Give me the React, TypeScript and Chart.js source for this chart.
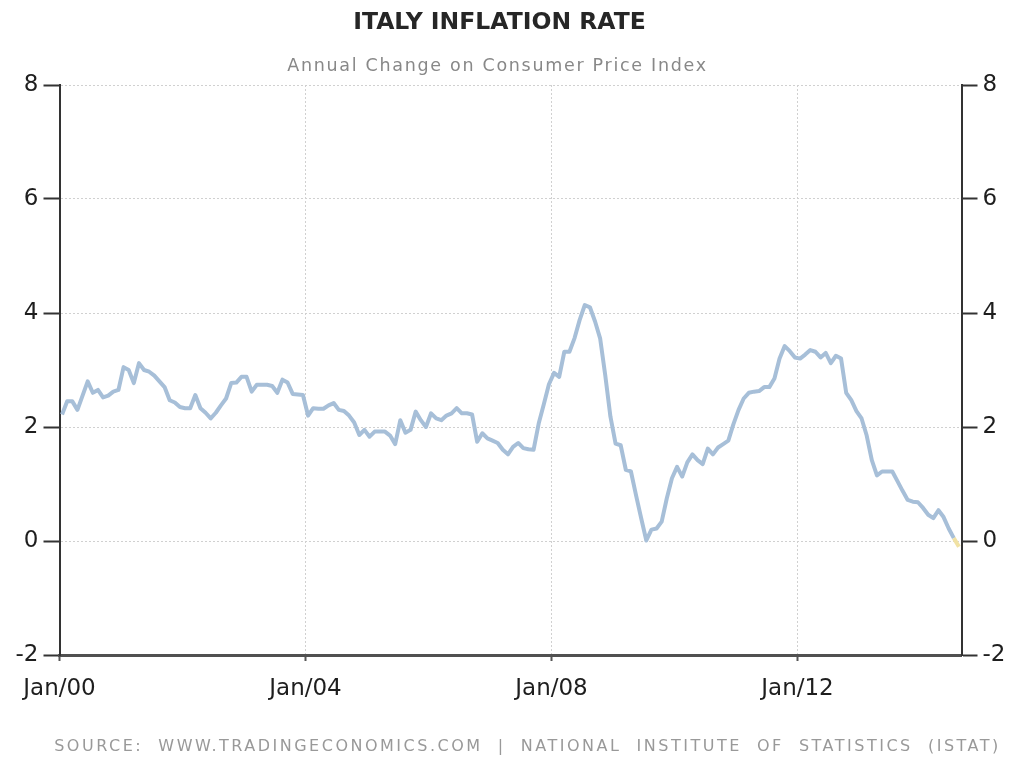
import React, { useEffect, useRef } from "react";
import { Chart, registerables } from "chart.js";

Chart.register(...registerables);

// Italy annual CPI change (%), monthly, Jan 2000 – Aug 2014
const y2000 = [2.22, 2.45, 2.45, 2.3, 2.55, 2.8, 2.6, 2.65, 2.52, 2.55, 2.62, 2.65];
const y2001 = [3.05, 3.0, 2.77, 3.12, 3.0, 2.97, 2.9, 2.8, 2.7, 2.47, 2.43, 2.35];
const y2002 = [2.33, 2.33, 2.56, 2.33, 2.25, 2.15, 2.25, 2.38, 2.5, 2.77, 2.78, 2.88];
const y2003 = [2.88, 2.62, 2.74, 2.74, 2.74, 2.72, 2.6, 2.83, 2.78, 2.58, 2.57, 2.56];
const y2004 = [2.2, 2.33, 2.32, 2.32, 2.38, 2.42, 2.3, 2.28, 2.2, 2.08, 1.86, 1.95];
const y2005 = [1.83, 1.92, 1.92, 1.92, 1.85, 1.7, 2.12, 1.9, 1.95, 2.27, 2.12, 2.0];
const y2006 = [2.24, 2.15, 2.12, 2.2, 2.24, 2.33, 2.24, 2.24, 2.22, 1.74, 1.89, 1.8];
const y2007 = [1.76, 1.72, 1.6, 1.52, 1.65, 1.72, 1.63, 1.61, 1.6, 2.06, 2.4, 2.75];
const y2008 = [2.95, 2.88, 3.32, 3.32, 3.56, 3.88, 4.14, 4.1, 3.85, 3.55, 2.9, 2.18];
const y2009 = [1.71, 1.68, 1.25, 1.22, 0.8, 0.4, 0.01, 0.2, 0.22, 0.34, 0.75, 1.1];
const y2010 = [1.3, 1.13, 1.38, 1.52, 1.42, 1.35, 1.62, 1.52, 1.64, 1.7, 1.76, 2.05];
const y2011 = [2.3, 2.5, 2.6, 2.62, 2.63, 2.7, 2.7, 2.85, 3.2, 3.42, 3.33, 3.22];
const y2012 = [3.2, 3.27, 3.35, 3.32, 3.22, 3.3, 3.12, 3.25, 3.2, 2.6, 2.47, 2.28];
const y2013 = [2.15, 1.85, 1.42, 1.15, 1.22, 1.22, 1.22, 1.05, 0.88, 0.72, 0.69, 0.68];
const y2014 = [0.58, 0.46, 0.4, 0.54, 0.42, 0.22, 0.05, -0.1];

const inflation = [
  ...y2000, ...y2001, ...y2002, ...y2003, ...y2004, ...y2005, ...y2006, ...y2007,
  ...y2008, ...y2009, ...y2010, ...y2011, ...y2012, ...y2013, ...y2014,
];

// months since Jan 2000 at which the x-axis labels sit
const xTickMonths = [0, 48, 96, 144];
const xTickLabels = ["Jan/00", "Jan/04", "Jan/08", "Jan/12"];
const yTickValues = [-2, 0, 2, 4, 6, 8];

const TITLE = "ITALY INFLATION RATE";
const SUBTITLE = "Annual Change on Consumer Price Index";
const SOURCE = "SOURCE:  WWW.TRADINGECONOMICS.COM  |  NATIONAL  INSTITUTE  OF  STATISTICS  (ISTAT)";

const LINE = "#a7bfd8";
const NEG = "#f1e2a4";

export default function App() {
  const ref = useRef<HTMLCanvasElement>(null);

  useEffect(() => {
    document.body.style.margin = "0";
    const points = inflation.map((v, i) => ({ x: i + 0.5, y: v }));
    const tickFont = { family: "'DejaVu Sans', sans-serif", size: 23 };
    const chart = new Chart(ref.current as HTMLCanvasElement, {
      type: "line",
      data: {
        datasets: [
          {
            data: points,
            borderColor: LINE,
            borderWidth: 4,
            pointRadius: 0,
            tension: 0,
            borderJoinStyle: "round",
            yAxisID: "y",
            segment: {
              borderColor: (c: any) => (c.p1.parsed.y < 0 ? NEG : LINE),
            },
          },
        ],
      },
      options: {
        animation: false,
        responsive: false,
        maintainAspectRatio: false,
        layout: { padding: { top: 85, left: 0, right: 0, bottom: 0 } },
        plugins: {
          legend: { display: false },
          tooltip: { enabled: false },
          title: { display: false },
        },
        scales: {
          x: {
            type: "linear",
            min: 0,
            max: 176,
            afterBuildTicks: (s: any) => {
              s.ticks = xTickMonths.map((v) => ({ value: v }));
            },
            afterFit: (s: any) => {
              s.height = 109;
            },
            ticks: {
              autoSkip: false,
              maxRotation: 0,
              padding: 14,
              color: "#1e1e1e",
              font: tickFont,
              callback: (v: any) => {
                const k = xTickMonths.indexOf(Number(v));
                return k >= 0 ? xTickLabels[k] : "";
              },
            },
            grid: {
              color: "#d0d0d0",
              lineWidth: 1,
              drawTicks: true,
              tickLength: 6,
              tickColor: "#555",
              tickWidth: 2,
            },
            border: { color: "#505050", width: 3, dash: [2, 2] },
          },
          y: {
            position: "left",
            min: -2,
            max: 8,
            afterBuildTicks: (s: any) => {
              s.ticks = yTickValues.map((v) => ({ value: v }));
            },
            afterFit: (s: any) => {
              s.width = 59.5;
            },
            ticks: { padding: 5, color: "#1e1e1e", font: tickFont },
            grid: {
              color: "#d0d0d0",
              lineWidth: 1,
              tickLength: 16,
              tickColor: "#333",
              tickWidth: 2,
            },
            border: { color: "#333", width: 2, dash: [2, 2] },
          },
          y2: {
            position: "right",
            min: -2,
            max: 8,
            afterBuildTicks: (s: any) => {
              s.ticks = yTickValues.map((v) => ({ value: v }));
            },
            afterFit: (s: any) => {
              s.width = 1011 - 961.5;
            },
            ticks: { padding: 5, color: "#1e1e1e", font: tickFont },
            grid: {
              drawOnChartArea: false,
              tickLength: 16,
              tickColor: "#333",
              tickWidth: 2,
            },
            border: { color: "#333", width: 2 },
          },
        },
      },
    } as any);
    return () => chart.destroy();
  }, []);

  return (
    <div style={{ position: "relative", width: 1011, height: 764, background: "#fff", overflow: "hidden" }}>
      <canvas ref={ref} width={1011} height={764} style={{ position: "absolute", left: 0, top: 0, width: 1011, height: 764 }} />
      <div
        style={{
          position: "absolute", left: -6, top: 6, width: 1011, textAlign: "center",
          fontFamily: "'DejaVu Sans', sans-serif", fontWeight: "bold", fontSize: 23.5,
          color: "#262626", lineHeight: "30px", letterSpacing: "0px",
        }}
      >
        {TITLE}
      </div>
      <div
        style={{
          position: "absolute", left: -8, top: 53, width: 1011, textAlign: "center",
          fontFamily: "'DejaVu Sans', sans-serif", fontSize: 17.5, letterSpacing: "1.7px",
          color: "#888", lineHeight: "24px",
        }}
      >
        {SUBTITLE}
      </div>
      <div
        style={{
          position: "absolute", left: 22, top: 734, width: 1011, textAlign: "center",
          fontFamily: "'DejaVu Sans', sans-serif", fontSize: 16, letterSpacing: "2.5px",
          color: "#999", lineHeight: "24px", whiteSpace: "pre",
        }}
      >
        {SOURCE}
      </div>
    </div>
  );
}
